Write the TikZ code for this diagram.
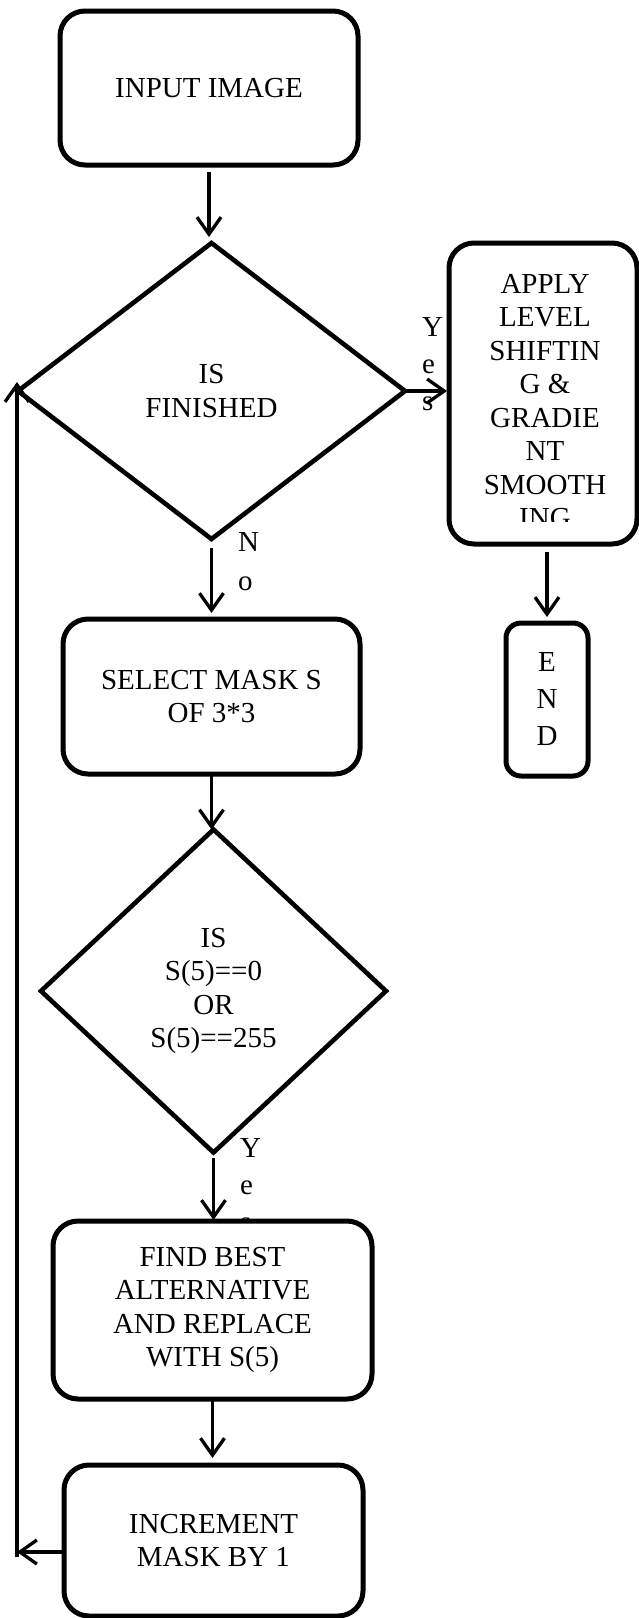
\documentclass[tikz,border=0pt]{standalone}
\usepackage{fontspec}
\setmainfont{Liberation Serif}
\usetikzlibrary{shapes.geometric,arrows.meta}
\begin{document}
\begin{tikzpicture}[x=1pt,y=-1pt,
  txt/.style={font=\fontsize{29pt}{33.5pt}\selectfont},
  box/.style={draw, line width=5pt, rounded corners=25pt, fill=white, inner sep=0pt, outer sep=0pt, align=center, txt},
  dec/.style={draw, diamond, line width=4.6pt, fill=white, inner sep=0pt, outer sep=0pt, align=center, txt},
  arr/.style={line width=3.3pt, -{Straight Barb[length=17pt,width=24pt]}},
  lbl/.style={inner sep=0pt, outer sep=0pt, anchor=north west, align=left},
]
\useasboundingbox (0,0) rectangle (639,1618);

% labels (drawn first so boxes may cover them)
\node[lbl, font=\fontsize{29pt}{37pt}\selectfont] (yes1) at (422,318) {Y\\e\\s};
\node[lbl, font=\fontsize{29pt}{39pt}\selectfont] (no1) at (238,533) {N\\o};
\node[lbl, font=\fontsize{29pt}{37pt}\selectfont] (yes2) at (240,1138) {Y\\e\\s};

% nodes
\node[box, minimum width=298pt, minimum height=154pt] (input) at (209,88) {INPUT IMAGE};
\node[dec, minimum width=387pt, minimum height=296pt] (d1) at (211.5,391) {IS\\FINISHED};
\node[box, minimum width=188pt, minimum height=301pt] (apply) at (543,393.5) {};
\begin{scope}
  \clip (452,246) rectangle (634,521);
  \node[inner sep=0pt, outer sep=0pt, anchor=north, align=center, txt] (applytext) at (545,274)
    {APPLY\\LEVEL\\SHIFTIN\\G \&\\GRADIE\\NT\\SMOOTH\\ING};
\end{scope}
\node[box, rounded corners=15pt, minimum width=82pt, minimum height=153pt, font=\fontsize{29pt}{37pt}\selectfont] (end) at (547,699.5) {E\\N\\D};
\node[box, minimum width=297pt, minimum height=155pt] (select) at (211.5,696.5) {SELECT MASK S\\OF 3*3};
\node[dec, minimum width=345pt, minimum height=323pt] (d2) at (213.5,991) {IS\\S(5)==0\\OR\\S(5)==255};
\node[box, minimum width=319pt, minimum height=178pt] (find) at (212.5,1310) {FIND BEST\\ALTERNATIVE\\AND REPLACE\\WITH S(5)};
\node[box, minimum width=299pt, minimum height=151pt] (inc) at (213.5,1540.5) {INCREMENT\\MASK BY 1};

% connectors
\draw[arr, shorten <=7pt, shorten >=6pt] (input.south) -- (input.south |- d1.north);
\draw[arr, shorten >=2pt] (d1.east) -- (d1.east -| apply.west);
\draw[arr, shorten <=8pt, shorten >=6pt] (end.north |- apply.south) -- (end.north);
\draw[arr, shorten <=9pt, shorten >=6pt] (d1.south) -- (d1.south |- select.north);
\draw[arr] (select.south) -- (select.south |- d2.north);
\draw[arr, shorten <=5.5pt, shorten >=1pt] (d2.south) -- (d2.south |- find.north);
\draw[arr, shorten >=7pt] (find.south) -- (find.south |- inc.north);
\coordinate (fb) at ([yshift=-11.5pt]inc.west);
\coordinate (lb) at (17,1557);
\coordinate (lt) at ([yshift=9pt]d1.west -| lb);
\draw[arr] (fb) -- (fb -| lb);
\draw[arr] (lb) -- (lt);
\end{tikzpicture}
\end{document}
